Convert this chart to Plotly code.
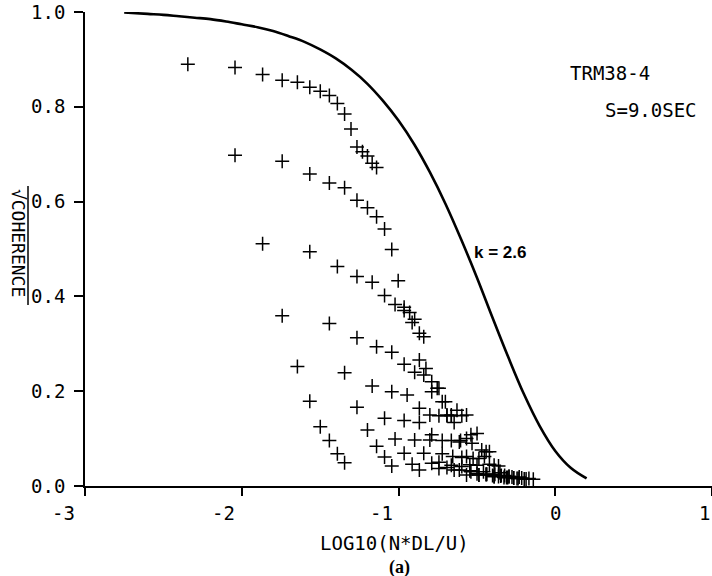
import plotly.graph_objects as go

# ---- data ----
x_s1 = [-2.344, -2.043, -1.867, -1.742, -1.645, -1.566, -1.499, -1.441, -1.390, -1.344, -1.303, -1.265, -1.230, -1.198, -1.168, -1.140]
y_s1 = [0.890, 0.883, 0.868, 0.856, 0.852, 0.841, 0.833, 0.824, 0.807, 0.785, 0.753, 0.715, 0.705, 0.696, 0.681, 0.672]

x_s2 = [-2.043, -1.742, -1.566, -1.441, -1.344, -1.265, -1.198, -1.140, -1.089, -1.043, -1.002, -0.964, -0.929, -0.897, -0.867, -0.839]
y_s2 = [0.698, 0.685, 0.658, 0.639, 0.629, 0.603, 0.587, 0.568, 0.542, 0.499, 0.433, 0.377, 0.366, 0.352, 0.322, 0.315]

x_s3 = [-1.867, -1.566, -1.390, -1.265, -1.168, -1.089, -1.022, -0.964, -0.913, -0.867, -0.825, -0.788, -0.753, -0.721, -0.691, -0.663]
y_s3 = [0.511, 0.494, 0.463, 0.442, 0.430, 0.402, 0.383, 0.370, 0.345, 0.266, 0.248, 0.220, 0.206, 0.178, 0.150, 0.148]

x_s4 = [-1.742, -1.441, -1.265, -1.140, -1.043, -0.964, -0.897, -0.839, -0.788, -0.742, -0.701, -0.663, -0.627, -0.596, -0.566, -0.538]
y_s4 = [0.359, 0.343, 0.313, 0.294, 0.282, 0.257, 0.240, 0.234, 0.199, 0.206, 0.178, 0.150, 0.160, 0.148, 0.150, 0.108]

x_s5 = [-1.645, -1.344, -1.168, -1.043, -0.945, -0.867, -0.800, -0.742, -0.691, -0.645, -0.604, -0.566, -0.531, -0.499, -0.469, -0.441]
y_s5 = [0.252, 0.239, 0.211, 0.199, 0.192, 0.164, 0.150, 0.148, 0.148, 0.134, 0.096, 0.100, 0.090, 0.111, 0.076, 0.072]

x_s6 = [-1.566, -1.265, -1.089, -0.964, -0.867, -0.788, -0.721, -0.663, -0.612, -0.566, -0.524, -0.487, -0.452, -0.420, -0.390, -0.362]
y_s6 = [0.179, 0.166, 0.143, 0.138, 0.134, 0.108, 0.096, 0.096, 0.093, 0.062, 0.058, 0.058, 0.062, 0.072, 0.044, 0.042]

x_s7 = [-1.499, -1.198, -1.022, -0.897, -0.800, -0.721, -0.654, -0.596, -0.545, -0.499, -0.458, -0.420, -0.385, -0.353, -0.323, -0.295]
y_s7 = [0.125, 0.118, 0.099, 0.097, 0.097, 0.068, 0.062, 0.060, 0.045, 0.044, 0.030, 0.046, 0.025, 0.028, 0.022, 0.020]

x_s8 = [-1.441, -1.140, -0.964, -0.839, -0.742, -0.663, -0.596, -0.538, -0.487, -0.441, -0.400, -0.362, -0.327, -0.295, -0.265, -0.237]
y_s8 = [0.096, 0.084, 0.069, 0.069, 0.050, 0.044, 0.041, 0.030, 0.023, 0.025, 0.022, 0.020, 0.018, 0.020, 0.017, 0.016]

x_s9 = [-1.390, -1.089, -0.913, -0.788, -0.691, -0.612, -0.545, -0.487, -0.436, -0.390, -0.348, -0.311, -0.276, -0.244, -0.214, -0.186]
y_s9 = [0.068, 0.061, 0.046, 0.048, 0.039, 0.034, 0.032, 0.023, 0.025, 0.020, 0.021, 0.018, 0.019, 0.016, 0.017, 0.015]

x_s10 = [-1.344, -1.043, -0.867, -0.742, -0.645, -0.566, -0.499, -0.441, -0.390, -0.344, -0.303, -0.265, -0.230, -0.198, -0.168, -0.140]
y_s10 = [0.049, 0.042, 0.034, 0.037, 0.034, 0.023, 0.026, 0.024, 0.020, 0.022, 0.018, 0.017, 0.019, 0.015, 0.016, 0.014]

# model curve k = 2.6
x_curve = [-2.75, -2.6, -2.5, -2.4, -2.3, -2.2, -2.1, -2.0, -1.9, -1.8, -1.7, -1.6, -1.5, -1.4, -1.3,
           -1.2, -1.1, -1.0, -0.9, -0.8, -0.7, -0.6, -0.5, -0.4, -0.3, -0.2, -0.1, 0.0, 0.1, 0.2]
y_curve = [0.999, 0.996, 0.994, 0.991, 0.988, 0.985, 0.980, 0.974, 0.968, 0.960, 0.949, 0.937, 0.921, 0.902, 0.878,
           0.849, 0.813, 0.771, 0.721, 0.662, 0.595, 0.520, 0.440, 0.355, 0.272, 0.194, 0.127, 0.074, 0.038, 0.016]

x_tick_vals = [-3, -2, -1, 0, 1]
x_tick_text = ["-3", "-2", "-1", "0", "1"]
y_tick_vals = [0.0, 0.2, 0.4, 0.6, 0.8, 1.0]
y_tick_text = ["0.0", "0.2", "0.4", "0.6", "0.8", "1.0"]

MONO = "DejaVu Sans Mono"

fig = go.Figure()
series = [(x_s1, y_s1), (x_s2, y_s2), (x_s3, y_s3), (x_s4, y_s4), (x_s5, y_s5),
          (x_s6, y_s6), (x_s7, y_s7), (x_s8, y_s8), (x_s9, y_s9), (x_s10, y_s10)]
for xs, ys in series:
    fig.add_trace(go.Scatter(x=xs, y=ys, mode="markers",
                             marker=dict(symbol="cross-thin", size=10, color="black",
                                         line=dict(width=1.5, color="black")),
                             showlegend=False, hoverinfo="skip"))

fig.add_trace(go.Scatter(x=x_curve, y=y_curve, mode="lines", line=dict(color="black", width=2.6, shape="spline"),
                         showlegend=False, hoverinfo="skip"))

fig.update_layout(
    width=712, height=576,
    margin=dict(l=85, r=0, t=12, b=90),
    paper_bgcolor="white", plot_bgcolor="white",
    font=dict(family=MONO, size=19, color="black"),
)
fig.update_xaxes(range=[-3, 1], tickvals=x_tick_vals, ticktext=x_tick_text, showticklabels=False,
                 showline=True, linecolor="black", linewidth=1.5, ticks="outside", ticklen=8,
                 tickwidth=1.5, tickcolor="black", showgrid=False, zeroline=False)
fig.update_yaxes(range=[0, 1], tickvals=y_tick_vals, ticktext=y_tick_text,
                 showline=True, linecolor="black", linewidth=1.5, ticks="outside", ticklen=9,
                 tickwidth=1.5, tickcolor="black", showgrid=False, zeroline=False,
                 tickfont=dict(family=MONO, size=19), ticklabelstandoff=5)

# x tick labels (placed as in the reference, slightly left of the ticks), in paper coordinates
x_label_pos = [-0.035, 0.221, 0.473, 0.75, 1.0]
x_label_anchor = ["center", "center", "center", "center", "right"]
for xp, t, anc in zip(x_label_pos, x_tick_text, x_label_anchor):
    fig.add_annotation(x=xp, y=-0.057, xref="paper", yref="paper", text=t, showarrow=False,
                       font=dict(family=MONO, size=19), xanchor=anc, yanchor="middle")

fig.add_annotation(x=0.493, y=-0.120, xref="paper", yref="paper", text="LOG10(N*DL/U)",
                   showarrow=False, font=dict(family=MONO, size=19), xanchor="center", yanchor="middle")
fig.add_annotation(x=0.502, y=-0.171, xref="paper", yref="paper", text="<b>(a)</b>",
                   showarrow=False, font=dict(family="Liberation Serif", size=18), xanchor="center", yanchor="middle")
fig.add_annotation(x=-0.107, y=0.513, xref="paper", yref="paper", text="√COHERENCE", textangle=90,
                   showarrow=False, font=dict(family=MONO, size=18), xanchor="center", yanchor="middle")
fig.add_shape(type="line", xref="paper", yref="paper", x0=-0.0909, x1=-0.0909, y0=0.633, y1=0.382,
              line=dict(color="black", width=1.5))
fig.add_annotation(x=0.770, y=0.871, xref="paper", yref="paper", text="TRM38-4",
                   showarrow=False, font=dict(family=MONO, size=19), xanchor="left", yanchor="middle")
fig.add_annotation(x=0.826, y=0.793, xref="paper", yref="paper", text="S=9.0SEC",
                   showarrow=False, font=dict(family=MONO, size=19), xanchor="left", yanchor="middle")
fig.add_annotation(x=0.617, y=0.4916, xref="paper", yref="paper", text="<b>k = 2.6</b>",
                   showarrow=False, font=dict(family="Liberation Sans", size=17), xanchor="left", yanchor="middle")

fig.write_html("out.html")
